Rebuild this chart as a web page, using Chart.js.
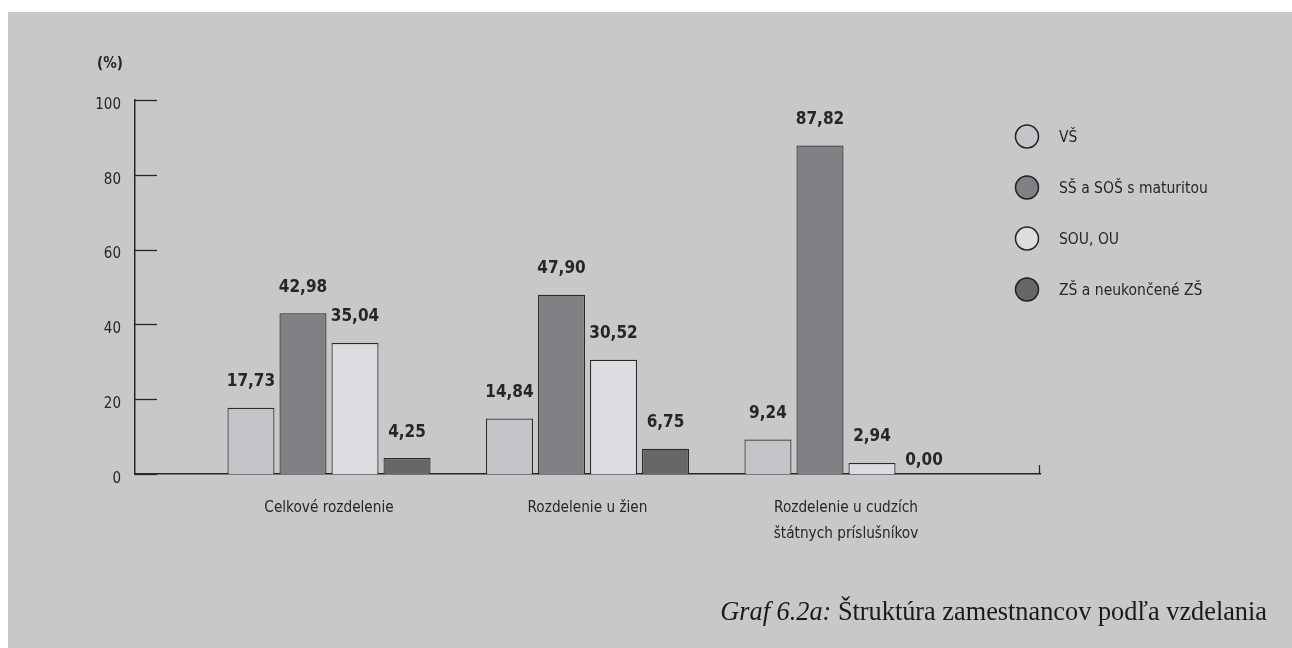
<!DOCTYPE html>
<html>
<head>
<meta charset="utf-8">
<script src="https://cdn.jsdelivr.net/npm/chart.js@4/dist/chart.umd.min.js"></script>
<style>
  html, body { margin: 0; padding: 0; background: #ffffff; }
  canvas { display: block; }
</style>
</head>
<body>
<canvas id="c" width="1292" height="648"></canvas>
<script>
// ---- data ----
const categories = [
  ['Celkové rozdelenie'],
  ['Rozdelenie u žien'],
  ['Rozdelenie u cudzích', 'štátnych príslušníkov']
];
const seriesNames = ['VŠ', 'SŠ a SOŠ s maturitou', 'SOU, OU', 'ZŠ a neukončené ZŠ'];
const valuesVS = [17.73, 14.84, 9.24];
const valuesSS = [42.98, 47.90, 87.82];
const valuesSOU = [35.04, 30.52, 2.94];
const valuesZS = [4.25, 6.75, 0.00];
const yTicks = [0, 20, 40, 60, 80, 100];
const yUnit = '(%)';
const caption = { italic: 'Graf 6.2a:', normal: ' Štruktúra zamestnancov podľa vzdelania' };

// ---- styles ----
const fills = ['#c3c4c8', '#808185', '#dcdde0', '#666769'];
const ink = '#262626';
const SANS = "'Liberation Sans Narrow', 'DejaVu Sans Condensed', 'Arial Narrow', sans-serif";
const SERIF = "'Liberation Serif', 'DejaVu Serif', serif";

const allSeries = [valuesVS, valuesSS, valuesSOU, valuesZS];
const datasets = allSeries.map((vals, k) => ({
  label: seriesNames[k],
  data: vals.map((v, i) => ({ x: i, y: v })),
  backgroundColor: fills[k],
  borderColor: '#2a2a2a',
  borderWidth: 1.2,
  categoryPercentage: 0.805,
  barPercentage: 0.904
}));

const decor = {
  id: 'decor',
  beforeDraw(chart) {
    const ctx = chart.ctx;
    ctx.save();
    ctx.fillStyle = '#c8c8c8';
    ctx.fillRect(8, 12, chart.width - 8, chart.height - 12);
    ctx.restore();
  },
  afterDraw(chart) {
    const ctx = chart.ctx;
    const ys = chart.scales.y;
    const area = chart.chartArea;
    ctx.save();
    // inward tick marks on y axis
    ctx.strokeStyle = ink;
    ctx.lineWidth = 1.3;
    yTicks.forEach(t => {
      const py = Math.round(ys.getPixelForValue(t)) + 0.5;
      ctx.beginPath();
      ctx.moveTo(area.left, py);
      ctx.lineTo(area.left + 22, py);
      ctx.stroke();
    });
    // small end tick on x axis
    ctx.beginPath();
    ctx.moveTo(area.right - 0.5, area.bottom);
    ctx.lineTo(area.right - 0.5, area.bottom - 9);
    ctx.stroke();

    // unit label
    ctx.fillStyle = ink;
    ctx.font = 'bold 15px ' + SANS;
    ctx.textAlign = 'center';
    ctx.textBaseline = 'middle';
    ctx.fillText(yUnit, 110, 64);

    // value labels
    ctx.font = 'bold 17px ' + SANS;
    ctx.textBaseline = 'middle';
    chart.data.datasets.forEach((ds, k) => {
      const meta = chart.getDatasetMeta(k);
      meta.data.forEach((bar, i) => {
        const v = ds.data[i].y;
        const off = v === 0 ? 13 : 26;
        ctx.fillText(v.toFixed(2).replace('.', ','), bar.x, bar.y - off);
      });
    });

    // legend
    const lx = 1027, ly0 = 136.5, dy = 51;
    seriesNames.forEach((name, k) => {
      const cy = ly0 + k * dy;
      ctx.beginPath();
      ctx.arc(lx, cy, 11.5, 0, Math.PI * 2);
      ctx.fillStyle = fills[k];
      ctx.fill();
      ctx.lineWidth = 1.5;
      ctx.strokeStyle = '#222';
      ctx.stroke();
      ctx.fillStyle = ink;
      ctx.font = '15.5px ' + SANS;
      ctx.textAlign = 'left';
      ctx.textBaseline = 'middle';
      ctx.fillText(name, 1059, cy + 1);
    });

    // caption
    ctx.fillStyle = '#1a1a1a';
    ctx.textBaseline = 'alphabetic';
    ctx.textAlign = 'left';
    ctx.font = '26.3px ' + SERIF;
    const wN = ctx.measureText(caption.normal).width;
    ctx.font = 'italic 26.3px ' + SERIF;
    const wI = ctx.measureText(caption.italic).width;
    const right = 1267;
    const startX = right - wN - wI;
    ctx.fillText(caption.italic, startX, 620);
    ctx.font = '26.3px ' + SERIF;
    ctx.fillText(caption.normal, startX + wI, 620);
    ctx.restore();
  }
};

new Chart(document.getElementById('c'), {
  type: 'bar',
  data: { datasets },
  options: {
    responsive: false,
    animation: false,
    devicePixelRatio: 1,
    layout: { padding: { top: 100, right: 252, bottom: 0, left: 0 } },
    plugins: { legend: { display: false }, tooltip: { enabled: false } },
    scales: {
      x: {
        type: 'linear',
        min: -0.7505,
        max: 2.7505,
        offset: false,
        grid: { display: false, drawTicks: false },
        border: { display: true, color: ink, width: 1.5 },
        afterBuildTicks: (s) => { s.ticks = categories.map((c, i) => ({ value: i })); },
        afterFit: (s) => { s.height = 174; },
        ticks: {
          autoSkip: false,
          maxRotation: 0,
          padding: 21,
          color: ink,
          font: { family: SANS, size: 15.2, lineHeight: 1.7 },
          callback: (v) => categories[v]
        }
      },
      y: {
        min: 0,
        max: 100,
        grid: { display: false, drawTicks: false },
        border: { display: true, color: ink, width: 1.5 },
        afterBuildTicks: (s) => { s.ticks = yTicks.map(v => ({ value: v })); },
        afterFit: (s) => { s.width = 135; },
        ticks: {
          padding: 14,
          labelOffset: 5,
          color: ink,
          font: { family: SANS, size: 15 }
        }
      }
    }
  },
  plugins: [decor]
});
</script>
</body>
</html>
